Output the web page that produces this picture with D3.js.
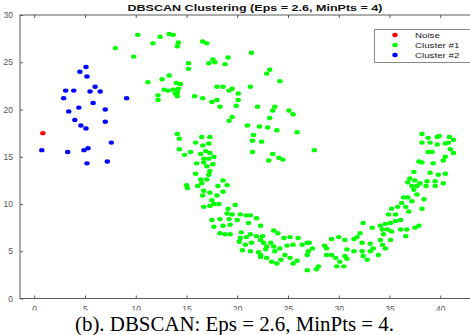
<!DOCTYPE html>
<html>
<head>
<meta charset="utf-8">
<script src="https://cdn.jsdelivr.net/npm/d3@7"></script>
<style>
  body { margin: 0; background: #fff; }
  svg { display: block; }
</style>
</head>
<body>
<script>
const title = "DBSCAN Clustering (Eps = 2.6, MinPts = 4)";
const caption = "(b). DBSCAN: Eps = 2.6, MinPts = 4.";
const xTicks = [0, 5, 10, 15, 20, 25, 30, 35, 40];
const yTicks = [0, 5, 10, 15, 20, 25, 30];
const legendLabels = ["Noise", "Cluster #1", "Cluster #2"];
const legendColors = ["#ff0000", "#00ff00", "#0000ff"];

const noise = [[0.85, 17.5]];

const cluster2 = [
  [5.1, 24.5], [4.5, 24.0], [5.2, 23.5], [3.1, 22.0], [3.9, 22.0], [5.5, 21.9], [6.0, 22.4], [6.5, 21.9],
  [2.9, 21.2], [9.1, 21.2], [5.8, 20.7], [4.4, 20.2], [7.0, 20.0], [3.4, 19.8], [4.0, 18.9], [7.0, 18.7],
  [4.6, 18.3], [5.1, 18.0], [7.6, 16.5], [0.75, 15.7], [3.3, 15.5], [4.9, 15.7], [5.3, 15.9], [7.2, 14.5],
  [5.2, 14.3]
];

const cluster1 = [
  // upper arc
  [8.0, 26.5], [10.2, 27.9], [12.4, 27.7], [13.3, 28.0], [13.7, 27.9], [11.7, 27.0], [14.2, 27.1], [14.1, 26.7],
  [16.6, 27.2], [17.0, 27.0], [9.8, 25.6], [15.2, 24.9], [15.2, 24.3], [17.6, 25.3], [17.2, 24.9], [17.8, 25.0],
  [18.8, 24.8], [19.1, 25.5], [21.4, 26.0], [23.2, 24.2], [22.9, 23.8], [13.3, 23.6], [12.6, 23.2], [11.2, 22.9],
  [14.0, 22.8], [14.4, 22.7], [12.8, 22.1], [13.2, 22.0], [13.7, 22.1], [14.2, 22.2], [14.1, 21.8], [13.9, 21.7],
  [12.2, 21.5], [14.1, 21.4], [12.2, 21.0], [15.8, 21.4], [16.6, 21.2], [18.0, 22.4], [18.6, 22.4], [19.2, 22.0],
  [19.5, 22.2], [20.1, 21.7], [21.3, 22.4], [24.2, 23.0], [17.5, 20.8], [18.0, 21.0], [20.1, 21.0], [18.3, 20.3],
  [19.9, 20.4], [22.0, 20.3], [23.7, 20.3], [23.5, 19.9], [25.1, 19.9], [25.5, 19.5], [23.2, 19.1], [19.5, 19.2],
  [19.2, 18.8], [21.0, 18.3], [22.2, 18.2], [23.0, 18.1], [23.9, 17.8], [25.9, 17.6], [21.6, 17.3], [21.5, 16.7],
  [22.4, 16.6], [21.5, 15.5], [23.5, 15.3], [23.1, 14.6], [24.1, 14.9], [24.5, 14.7], [27.6, 15.7],
  // left band and bottom
  [14.1, 17.4], [14.3, 16.9], [16.5, 17.1], [17.3, 17.1], [15.9, 16.5], [16.6, 16.2], [17.2, 16.4], [14.3, 15.8],
  [14.8, 15.2], [15.4, 15.5], [16.9, 15.6], [17.3, 15.4], [16.4, 15.3], [17.7, 15.0], [16.7, 14.8], [17.2, 14.8],
  [16.0, 14.3], [16.7, 14.4], [17.6, 14.2], [17.0, 14.0], [17.3, 13.5], [15.9, 13.2], [17.2, 13.1], [16.4, 12.6],
  [17.0, 12.6], [18.6, 12.5], [15.0, 12.0], [15.1, 11.7], [16.1, 11.9], [16.5, 12.2], [19.0, 12.0], [18.1, 11.9],
  [16.7, 11.4], [17.3, 11.2], [18.6, 11.3], [16.6, 10.9], [18.0, 10.9], [17.5, 10.4], [17.3, 9.8], [16.7, 9.7],
  [17.7, 10.0], [18.2, 10.0], [19.8, 9.9], [19.1, 9.5], [19.0, 9.0], [20.3, 8.9], [19.5, 8.9], [17.5, 8.3],
  [18.3, 8.4], [19.2, 8.4], [20.0, 8.3], [20.9, 8.8], [21.3, 8.8], [21.9, 8.5], [17.7, 7.6], [18.6, 7.7],
  [19.3, 7.8], [21.1, 8.0], [22.3, 7.7], [18.3, 6.9], [18.8, 6.8], [19.3, 6.8], [20.4, 7.0], [20.3, 6.4],
  [20.9, 6.5], [21.3, 6.8], [21.9, 6.6], [23.6, 7.2], [24.0, 6.9], [22.5, 6.6], [20.2, 6.0], [20.8, 5.7],
  [21.4, 5.9], [22.3, 6.2], [22.6, 5.9], [23.3, 5.9], [24.6, 6.4], [25.2, 6.5], [26.0, 6.4], [20.5, 5.1],
  [21.3, 5.0], [22.1, 4.9], [22.3, 4.6], [22.8, 5.2], [22.9, 5.5], [23.6, 5.5], [23.7, 5.0], [24.2, 5.3],
  [24.9, 5.6], [25.5, 5.7], [26.4, 5.7], [26.9, 5.9], [22.3, 4.4], [22.9, 4.3], [23.4, 3.9], [23.9, 3.7],
  [24.3, 4.1], [24.7, 4.6], [25.2, 4.3], [25.5, 3.7], [25.9, 4.0], [26.9, 4.6], [27.0, 5.0], [26.9, 3.0],
  [27.1, 5.9], [27.4, 5.3], [28.0, 3.4], [27.8, 3.1],
  // right arm
  [38.2, 17.4], [38.8, 17.0], [39.7, 17.1], [39.9, 17.2], [40.9, 17.1], [41.3, 16.8], [38.2, 16.5], [39.0, 16.5],
  [39.7, 16.3], [40.5, 16.4], [40.8, 16.5], [38.8, 15.5], [39.2, 15.5], [41.0, 15.8], [41.3, 15.4], [40.5, 15.0],
  [40.3, 14.6], [37.9, 14.5], [38.2, 14.4], [39.3, 14.3], [37.4, 13.4], [39.0, 13.3], [39.8, 13.1], [40.5, 13.2],
  [37.0, 12.7], [36.8, 12.3], [37.5, 12.5], [38.0, 12.2], [38.7, 12.4], [39.5, 12.4], [40.3, 12.2], [37.2, 11.9],
  [37.7, 11.9], [38.6, 11.9], [39.5, 11.9], [37.4, 11.5], [37.7, 11.0], [36.4, 10.7], [36.8, 10.7], [36.2, 10.1],
  [37.2, 10.3], [38.4, 10.5], [35.8, 9.7], [36.6, 9.7], [36.9, 9.2], [35.2, 9.5], [34.9, 8.9], [35.6, 8.9],
  [38.2, 9.5], [36.1, 8.3], [35.6, 8.2], [35.1, 8.0], [34.6, 7.9], [34.1, 7.7], [32.4, 8.0], [33.3, 7.5],
  [34.3, 7.3], [34.8, 7.3], [36.1, 7.3], [36.7, 7.3], [37.5, 7.5], [37.9, 7.7], [36.6, 6.6], [35.2, 7.1],
  [34.4, 6.8], [34.1, 6.2], [35.1, 6.2], [32.1, 6.9], [31.8, 6.5], [31.5, 6.3], [30.6, 6.2], [30.0, 6.5],
  [29.3, 6.3], [32.3, 5.9], [33.1, 5.8], [33.4, 5.3], [34.3, 5.7], [34.6, 5.3], [30.8, 5.2], [31.5, 5.0],
  [32.3, 5.0], [33.1, 5.0], [28.6, 5.6], [28.8, 5.3], [28.8, 4.6], [29.3, 4.6], [29.7, 4.3], [30.6, 4.5],
  [30.8, 4.2], [30.1, 3.9], [29.8, 3.4], [30.5, 3.4], [33.9, 4.6], [32.4, 4.5], [32.8, 4.1]
];

const width = 470, height = 335;

const svg = d3.select("body").append("svg")
  .attr("width", width)
  .attr("height", height);

let x = d3.scaleLinear().domain([-1.4, 43]).range([20, 470.7]);
let y = d3.scaleLinear().domain([0, 30]).range([298.5, 15]);

// axes box
svg.append("rect")
  .attr("x", x(-1.4))
  .attr("y", y(30))
  .attr("width", x(43) - x(-1.4))
  .attr("height", y(0) - y(30))
  .attr("fill", "#fff")
  .attr("stroke", "#5a5a5a")
  .attr("stroke-width", 1);

let styleAxis = (g) => {
  g.select(".domain").remove();
  g.selectAll("line").attr("stroke", "#5a5a5a");
  g.selectAll("text")
    .attr("fill", "#555")
    .attr("font-family", "Liberation Sans, Arial, sans-serif")
    .attr("font-size", 8.5);
};

svg.append("g")
  .attr("transform", `translate(0, ${y(0)})`)
  .call(d3.axisBottom(x).tickValues(xTicks).tickSize(-3).tickPadding(7))
  .call(styleAxis);

svg.append("g")
  .attr("transform", `translate(0, ${y(30)})`)
  .call(d3.axisTop(x).tickValues(xTicks).tickSize(-3).tickFormat(""))
  .call(styleAxis);

svg.append("g")
  .attr("transform", `translate(${x(-1.4)}, 0)`)
  .call(d3.axisLeft(y).tickValues(yTicks).tickSize(-3).tickPadding(7))
  .call(styleAxis);

// points
let drawPoints = (pts, color) => {
  svg.append("g")
    .selectAll("ellipse")
    .data(pts)
    .enter()
    .append("ellipse")
    .attr("cx", d => x(d[0]))
    .attr("cy", d => y(d[1]))
    .attr("rx", 2.7)
    .attr("ry", 2.2)
    .attr("fill", color);
};

drawPoints(noise, legendColors[0]);
drawPoints(cluster1, legendColors[1]);
drawPoints(cluster2, legendColors[2]);

// legend
let legend = svg.append("g").attr("transform", "translate(374, 29)");
legend.append("rect")
  .attr("x", 0.5)
  .attr("y", 0.5)
  .attr("width", 100)
  .attr("height", 33)
  .attr("fill", "#fff")
  .attr("stroke", "#888");

let rows = legend.selectAll(".row")
  .data(legendLabels)
  .enter()
  .append("g")
  .attr("class", "row")
  .attr("transform", (d, i) => `translate(0, ${6 + i * 10})`);

rows.append("ellipse")
  .attr("cx", 21)
  .attr("cy", 0)
  .attr("rx", 2.7)
  .attr("ry", 2.2)
  .attr("fill", (d, i) => legendColors[i]);

// the source figure is stretched sideways a little, so the text is too
rows.append("text")
  .text(d => d)
  .attr("transform", "translate(41, 0) scale(1.22, 1)")
  .attr("dy", "0.35em")
  .attr("font-family", "Liberation Sans, Arial, sans-serif")
  .attr("font-size", 8)
  .attr("fill", "#222");

// title
svg.append("text")
  .text(title)
  .attr("x", 255)
  .attr("y", 10.5)
  .attr("text-anchor", "middle")
  .attr("font-family", "Liberation Sans, Arial, sans-serif")
  .attr("font-weight", "bold")
  .attr("font-size", 9.5)
  .attr("fill", "#111")
  .attr("textLength", 255)
  .attr("lengthAdjust", "spacingAndGlyphs");

// caption strip covers the lower half of the tick labels
svg.append("rect")
  .attr("x", 0)
  .attr("y", 310.5)
  .attr("width", width)
  .attr("height", height - 310.5)
  .attr("fill", "#fff");

svg.append("text")
  .text(caption)
  .attr("x", 234.5)
  .attr("y", 330.5)
  .attr("text-anchor", "middle")
  .attr("font-family", "Liberation Serif, Times New Roman, serif")
  .attr("font-size", 20)
  .attr("fill", "#000")
  .attr("textLength", 319)
  .attr("lengthAdjust", "spacingAndGlyphs");
</script>
</body>
</html>
